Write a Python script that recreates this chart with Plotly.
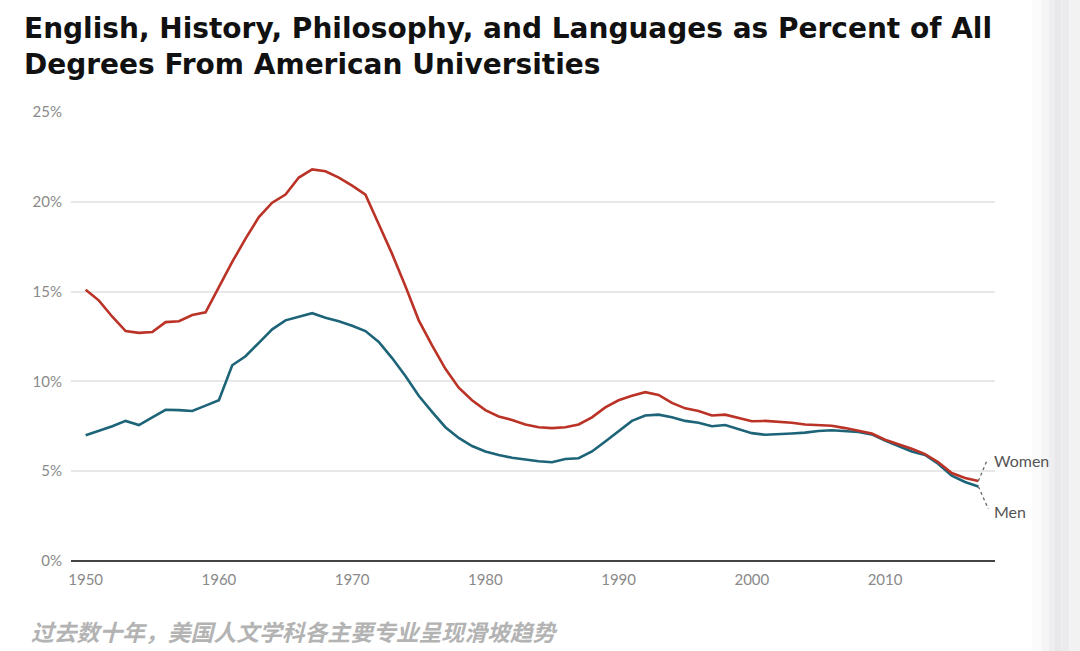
import plotly.graph_objects as go

years = list(range(1950, 2018))

women = [15.1, 14.5, 13.6, 12.8, 12.7, 12.75, 13.3, 13.35, 13.7, 13.85,
         15.25, 16.65, 17.95, 19.15, 19.95, 20.4, 21.35, 21.8, 21.7, 21.35,
         20.9, 20.4, 18.75, 17.1, 15.3, 13.4, 12.0, 10.7, 9.65, 8.95,
         8.4, 8.05, 7.85, 7.6, 7.45, 7.4, 7.45, 7.6, 8.0, 8.55,
         8.95, 9.2, 9.4, 9.25, 8.8, 8.5, 8.35, 8.1, 8.15, 7.95,
         7.78, 7.8, 7.75, 7.7, 7.6, 7.55, 7.53, 7.4, 7.25, 7.1,
         6.75, 6.5, 6.25, 5.95, 5.5, 4.9, 4.62, 4.45]

men = [7.0, 7.25, 7.5, 7.8, 7.57, 8.0, 8.42, 8.4, 8.35, 8.65,
       8.95, 10.9, 11.4, 12.15, 12.9, 13.4, 13.6, 13.8, 13.55, 13.35,
       13.1, 12.8, 12.2, 11.3, 10.3, 9.2, 8.3, 7.45, 6.85, 6.4,
       6.1, 5.9, 5.75, 5.63, 5.55, 5.5, 5.68, 5.72, 6.1, 6.65,
       7.25, 7.8, 8.1, 8.15, 8.0, 7.8, 7.7, 7.5, 7.57, 7.35,
       7.12, 7.03, 7.05, 7.1, 7.15, 7.24, 7.28, 7.25, 7.18, 7.05,
       6.7, 6.4, 6.1, 5.9, 5.4, 4.75, 4.4, 4.15]

y_ticks = [0, 5, 10, 15, 20, 25]
y_tick_labels = ["0%", "5%", "10%", "15%", "20%", "25%"]
x_ticks = [1950, 1960, 1970, 1980, 1990, 2000, 2010]
x_tick_labels = ["1950", "1960", "1970", "1980", "1990", "2000", "2010"]

title_text = "English, History, Philosophy, and Languages as Percent of All<br>Degrees From American Universities"
caption_text = "过去数十年，美国人文学科各主要专业呈现滑坡趋势"

RED = "#bb3226"
BLUE = "#1d6478"
TICK_FONT = dict(family="Lato, sans-serif", size=15, color="#8a8a8a")

fig = go.Figure()
fig.add_trace(go.Scatter(x=years, y=men, mode="lines", name="Men",
                         line=dict(color=BLUE, width=2.6), hoverinfo="skip"))
fig.add_trace(go.Scatter(x=years, y=women, mode="lines", name="Women",
                         line=dict(color=RED, width=2.6), hoverinfo="skip"))

# dotted leader lines for labels
last_year = years[-1]
fig.add_trace(go.Scatter(x=[last_year, last_year + 0.65], y=[women[-1], 5.6], mode="lines",
                         line=dict(color="#666666", width=1.3, dash="dot"), hoverinfo="skip", showlegend=False))
fig.add_trace(go.Scatter(x=[last_year, last_year + 0.75], y=[men[-1], 2.9], mode="lines",
                         line=dict(color="#666666", width=1.3, dash="dot"), hoverinfo="skip", showlegend=False))

fig.add_annotation(x=last_year + 1.05, y=5.6, text="Women", showarrow=False, xanchor="left",
                   yanchor="middle", font=dict(family="Lato, sans-serif", size=16, color="#555555"))
fig.add_annotation(x=last_year + 1.05, y=2.75, text="Men", showarrow=False, xanchor="left",
                   yanchor="middle", font=dict(family="Lato, sans-serif", size=16, color="#555555"))

# title
fig.add_annotation(xref="paper", yref="paper", x=-0.053, y=1.228, xanchor="left", yanchor="top",
                   text="<b>" + title_text + "</b>", showarrow=False, align="left",
                   font=dict(family="DejaVu Sans, sans-serif", size=28, color="#111111"))
# caption
fig.add_annotation(xref="paper", yref="paper", x=-0.045, y=-0.115, xanchor="left", yanchor="top",
                   text="<b><i>" + caption_text + "</i></b>", showarrow=False, align="left",
                   font=dict(family="Noto Sans CJK SC, sans-serif", size=22.8, color="#b3b3b3"))

# right-edge screenshot shading
shades = [(1.040, 1.050, "#fbfbfb"), (1.050, 1.058, "#f5f5f6"), (1.058, 1.064, "#eeeef0"),
          (1.064, 1.072, "#e8e8ea"), (1.072, 1.080, "#ebebed"), (1.080, 1.100, "#f2f2f3")]
for x0, x1, c in shades:
    fig.add_shape(type="rect", xref="paper", yref="paper", x0=x0, x1=x1, y0=-0.3, y1=1.3,
                  fillcolor=c, line=dict(width=0), layer="below")

fig.update_layout(
    width=1080, height=651,
    margin=dict(l=71, r=85, t=112, b=90),
    paper_bgcolor="white", plot_bgcolor="white",
    showlegend=False,
    xaxis=dict(range=[1948.9, 2018.25], tickvals=x_ticks, ticktext=x_tick_labels,
               showgrid=False, zeroline=False, showline=False, ticks="",
               ticklabelstandoff=8, tickfont=TICK_FONT),
    yaxis=dict(range=[0, 25], tickvals=y_ticks, ticktext=y_tick_labels,
               showgrid=True, gridcolor="#e8e8e8", gridwidth=1.5, zeroline=True,
               zerolinecolor="#444444", zerolinewidth=2, showline=False, ticks="",
               ticklabelstandoff=8, tickfont=TICK_FONT),
)

fig.write_html("out.html")
